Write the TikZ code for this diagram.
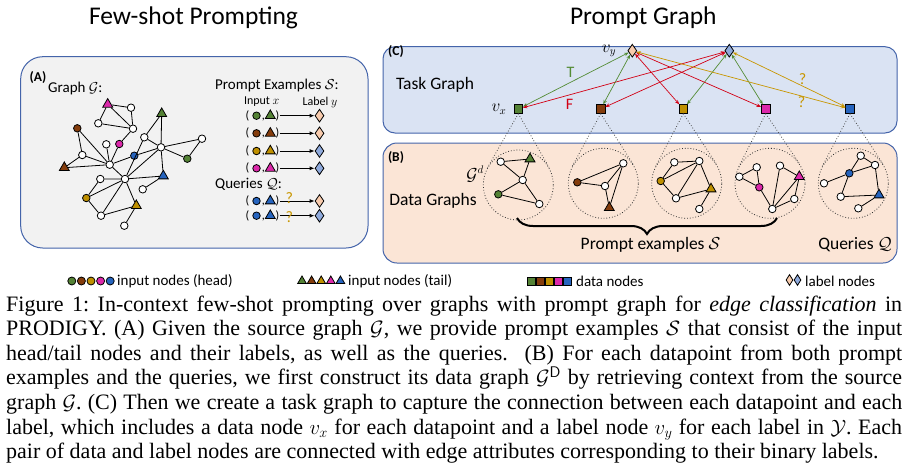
\documentclass[tikz,border=0pt]{standalone}
\usepackage{amsmath,amssymb}
\usepackage{fontspec}
\setmainfont{Carlito}
\newfontfamily\capfont{Liberation Serif}
\usepackage{xcolor}
\usepackage{tikz}
\usetikzlibrary{positioning,arrows.meta,calc,shapes.geometric,decorations.pathreplacing}

\definecolor{gGreen}{RGB}{84,130,53}
\definecolor{gBrown}{RGB}{132,60,12}
\definecolor{gGold}{RGB}{191,144,0}
\definecolor{gMag}{RGB}{220,40,170}
\definecolor{gBlue}{RGB}{38,100,190}
\definecolor{lOrange}{RGB}{248,203,173}
\definecolor{lBlue}{RGB}{143,170,220}
\definecolor{eGreen}{RGB}{84,140,53}
\definecolor{eRed}{RGB}{210,0,20}
\definecolor{eGold}{RGB}{200,150,0}
\definecolor{edgeBlue}{RGB}{68,100,170}
\definecolor{fillGray}{RGB}{242,242,242}
\definecolor{fillBlue}{RGB}{218,227,243}
\definecolor{fillPeach}{RGB}{251,229,214}

\begin{document}
\begin{tikzpicture}[x=1pt, y=-1pt, font={\fontsize{15}{18}\selectfont},
  wn/.style={circle, draw, fill=white, line width=0.8pt, inner sep=0pt, minimum size=7.5pt},
  hd/.style={wn, fill=#1},
  tl/.style={regular polygon, regular polygon sides=3, draw, fill=#1, line width=0.8pt, inner sep=0pt, minimum size=11.5pt},
  dn/.style={rectangle, draw, fill=#1, line width=0.8pt, inner sep=0pt, minimum size=8.5pt},
  lb/.style={diamond, draw, fill=#1, line width=0.8pt, inner sep=0pt, minimum width=9pt, minimum height=13pt},
  ed/.style={line width=0.8pt},
  parr/.style={-{Latex[length=5pt, width=4pt]}, line width=0.8pt},
  tarr/.style={{Stealth[length=4.5pt, width=3.5pt]}-{Stealth[length=4.5pt, width=3.5pt]}, line width=0.7pt, draw=#1},
  dg/.style={circle, draw=black!80, dotted, line width=0.8pt, minimum size=70pt, inner sep=0pt},
  cone/.style={draw=black!70, dotted, line width=0.8pt},
  panel/.style={draw=edgeBlue, line width=1pt, fill=#1},
  brc/.style={decorate, decoration={brace, mirror, amplitude=16pt}, line width=2pt},
  tag/.style={font={\bfseries\fontsize{13.5}{15}\selectfont}, inner sep=1pt},
  lab/.style={font={\fontsize{15}{18}\selectfont}, inner sep=1pt},
  big/.style={font={\fontsize{17.5}{20}\selectfont}, inner sep=1pt},
  sml/.style={font={\fontsize{12}{14}\selectfont}, inner sep=1pt},
  ttl/.style={font={\fontsize{25.5}{28}\selectfont}, inner sep=0pt, anchor=base},
  paren/.style={font={\fontsize{12}{14}\selectfont}, inner sep=0pt},
  qm/.style={font={\fontsize{16}{18}\selectfont}, text=eGold, inner sep=0pt},
  mk/.style={font={\fontsize{16}{18}\selectfont}, inner sep=1pt},
  leg/.style={font={\fontsize{15}{17}\selectfont}, anchor=west, inner sep=0pt}]
\useasboundingbox (0,0) rectangle (909,469);

\node[ttl] (t1) at (193.5,24) {Few-shot Prompting};
\node[ttl] (t2) at (643.3,24) {Prompt Graph};

\draw[panel=fillGray, rounded corners=22pt] (20.7,56.7) rectangle (368,248);
\draw[panel=fillBlue, rounded corners=12pt] (383,46.7) rectangle (897,133);
\draw[panel=fillPeach, rounded corners=14pt] (383,143) rectangle (897,263);

% (A) source graph
\node[tag] (ta) at (38,78) {(A)};
\node[lab, anchor=west] (gl) at (47,88) {Graph $\mathcal{G}$:};
\node[tl=gMag] (mT) at (107.7,104.3) {};
\node[wn] (w1) at (131,107.7) {};
\node[wn] (w2) at (98.3,123.3) {};
\node[wn] (w3) at (133,128.7) {};
\node[tl=gGreen] (gT) at (161.7,113.7) {};
\node[hd=gBrown] (bC) at (77.3,128.3) {};
\node[wn] (w4) at (144.3,137.3) {};
\node[wn] (w5) at (202,138.7) {};
\node[wn] (w6) at (106.3,144.3) {};
\node[hd=gMag] (mC) at (119.3,144) {};
\node[wn] (w7) at (161,147.3) {};
\node[hd=gBlue] (uC) at (134.3,155.7) {};
\node[wn] (w8) at (82.3,155) {};
\node[hd=gGreen] (gC) at (187.3,158.7) {};
\node[tl=gBrown] (bT) at (64.3,167.7) {};
\node[wn] (w9) at (109.7,164.7) {};
\node[wn] (w10) at (100.3,179) {};
\node[wn] (w11) at (125,179) {};
\node[tl=gBlue] (uT) at (163.3,176) {};
\node[wn] (w12) at (142.7,189.3) {};
\node[hd=gGold] (oC) at (86.3,198) {};
\node[tl=gGold] (oT) at (136.3,205.7) {};
\node[wn] (w13) at (101,215.7) {};
\node[wn] (w14) at (124.3,225.7) {};
\draw[ed] (mT) -- (w1) (mT) -- (w2) (mT) -- (w3) (w1) -- (w3) (w2) -- (w3)
  (w3) -- (mC) (mC) -- (w9) (w6) -- (w9) (bC) -- (w8) (bC) -- (w9)
  (w8) -- (bT) (w8) -- (w9) (bT) -- (w9) (w9) -- (uC) (uC) -- (w7)
  (w9) -- (w11) (w7) -- (w4) (gT) -- (w7) (gT) -- (w4) (w4) -- (w11)
  (w7) -- (w5) (w5) -- (gC) (w7) -- (gC) (w7) -- (uT) (w7) -- (w11)
  (w11) -- (uT) (w11) -- (w10) (w10) -- (oC) (w11) -- (oC) (w11) -- (w13)
  (w11) -- (oT) (oC) -- (w13) (w13) -- (oT) (oT) -- (w14) (w12) -- (uT);

% prompt examples and queries
\node[lab, anchor=west] (pe) at (214,85) {Prompt Examples $\mathcal{S}$:};
\node[sml] (ix) at (261.7,102) {Input $x$};
\node[sml] (ly) at (320,102) {Label $y$};
\node[lab, anchor=west] (qq) at (214,184) {Queries $\mathcal{Q}$:};
\foreach \yy/\hc/\lc [count=\i] in {115.7/gGreen/lOrange, 133.3/gBrown/lOrange, 151/gGold/lBlue, 168.3/gMag/lBlue, 201/gBlue/lOrange, 215.7/gBlue/lBlue}{
  \node[paren] (pl\i) at (247.5,\yy) {(};
  \node[hd=\hc] (h\i) at (256.5,\yy) {};
  \node[paren, anchor=base] (cm\i) at (263.3,\yy+3.5) {,};
  \node[tl=\hc] (tt\i) at (270.3,\yy) {};
  \node[paren] (pr\i) at (277.5,\yy) {)};
  \node[lb=\lc] (y\i) at (319.5,\yy) {};
  \draw[parr] (pr\i) -- (y\i);
}
\node[qm] (q1) at (289.3,198.3) {?};
\node[qm] (q2) at (289.3,216.7) {?};

% (C) task graph
\node[tag] (tc) at (396,52) {(C)};
\node[big] (tg) at (435,85) {Task Graph};
\node[lb=lOrange] (ly1) at (632.3,50.7) {};
\node[lb=lBlue] (ly2) at (729.3,50.7) {};
\node[dn=gGreen] (s1) at (518.3,109) {};
\node[dn=gBrown] (s2) at (600.7,109) {};
\node[dn=gGold] (s3) at (683.3,109) {};
\node[dn=gMag] (s4) at (765.7,109) {};
\node[dn=gBlue] (s5) at (850,109) {};
\node[mk, left=10pt of ly1] (vy) {$v_y$};
\node[mk, left=6pt of s1] (vx) {$v_x$};
\draw[tarr=eGreen] (ly1) -- node[pos=.55, above=3pt, text=eGreen, mk] (lt) {T} (s1);
\draw[tarr=eRed] (ly2) -- node[pos=.77, below=3pt, text=eRed, mk] (lf) {F} (s1);
\draw[tarr=eGreen] (ly1) -- (s2);
\draw[tarr=eRed] (ly2) -- (s2);
\draw[tarr=eRed] (ly1) -- (s3);
\draw[tarr=eGreen] (ly2) -- (s3);
\draw[tarr=eRed] (ly1) -- (s4);
\draw[tarr=eGreen] (ly2) -- (s4);
\draw[tarr=eGold] (ly1) -- node[pos=.79, below=0pt, qm] (lq1) {?} (s5);
\draw[tarr=eGold] (ly2) -- node[pos=.59, above right=-1pt, qm] (lq2) {?} (s5);

% (B) data graphs
\node[tag] (tb) at (396,157.5) {(B)};
\node[big] (dgl) at (433,201) {Data Graphs};
\node[mk] (gd) at (475,174) {$\mathcal{G}^d$};
\node[dg] (c1) at (518.3,185) {};
\node[dg] (c2) at (603.3,183.3) {};
\node[dg] (c3) at (686.7,183.3) {};
\node[dg] (c4) at (770,183.3) {};
\node[dg] (c5) at (853.3,183.3) {};
\draw[cone] (s1.south) -- (tangent cs:node=c1,point={(s1.south)},solution=1) (s1.south) -- (tangent cs:node=c1,point={(s1.south)},solution=2);
\draw[cone] (s2.south) -- (tangent cs:node=c2,point={(s2.south)},solution=1) (s2.south) -- (tangent cs:node=c2,point={(s2.south)},solution=2);
\draw[cone] (s3.south) -- (tangent cs:node=c3,point={(s3.south)},solution=1) (s3.south) -- (tangent cs:node=c3,point={(s3.south)},solution=2);
\draw[cone] (s4.south) -- (tangent cs:node=c4,point={(s4.south)},solution=1) (s4.south) -- (tangent cs:node=c4,point={(s4.south)},solution=2);
\draw[cone] (s5.south) -- (tangent cs:node=c5,point={(s5.south)},solution=1) (s5.south) -- (tangent cs:node=c5,point={(s5.south)},solution=2);

\node[wn] (p1a) at (500.7,161.7) {};
\node[tl=gGreen] (p1b) at (530,159) {};
\node[wn] (p1c) at (522.7,180) {};
\node[hd=gGreen] (p1d) at (498.3,194.3) {};
\node[wn] (p1e) at (539.3,204) {};
\draw[ed] (p1a) -- (p1b) (p1a) -- (p1c) (p1b) -- (p1c) (p1c) -- (p1d) (p1d) -- (p1e) (p1c) -- (p1e);

\node[hd=gBrown] (p2a) at (577.3,182.3) {};
\node[wn] (p2b) at (623.3,163.3) {};
\node[wn] (p2c) at (605,186) {};
\node[tl=gBrown] (p2d) at (609.3,207.7) {};
\draw[ed] (p2a) -- (p2b) (p2a) -- (p2c) (p2b) -- (p2c) (p2c) -- (p2d) (p2b) -- (p2d);

\node[wn] (p3a) at (674.3,162.3) {};
\node[wn] (p3b) at (699.3,161) {};
\node[hd=gGold] (p3c) at (660.7,181) {};
\node[tl=gGold] (p3d) at (711,189) {};
\node[wn] (p3e) at (676,198.3) {};
\node[wn] (p3f) at (699.3,209) {};
\draw[ed] (p3a) -- (p3b) (p3c) -- (p3a) (p3c) -- (p3b) (p3c) -- (p3e) (p3b) -- (p3e) (p3b) -- (p3d) (p3e) -- (p3d) (p3d) -- (p3f);

\node[wn] (p4a) at (739.3,176.7) {};
\node[wn] (p4b) at (756.7,167.3) {};
\node[hd=gMag] (p4c) at (759.3,187.3) {};
\node[wn] (p4d) at (780,165.7) {};
\node[tl=gMag] (p4e) at (799.3,176.7) {};
\node[wn] (p4f) at (794.3,199) {};
\node[wn] (p4g) at (772.3,209) {};
\draw[ed] (p4a) -- (p4b) (p4a) -- (p4c) (p4b) -- (p4c) (p4c) -- (p4g) (p4d) -- (p4g) (p4d) -- (p4e) (p4g) -- (p4e) (p4e) -- (p4f) (p4f) -- (p4g);

\node[wn] (p5a) at (860.7,155.7) {};
\node[wn] (p5b) at (875,165) {};
\node[hd=gBlue] (p5c) at (849.3,173.3) {};
\node[wn] (p5d) at (824,183.3) {};
\node[wn] (p5e) at (840.7,196.7) {};
\node[tl=gBlue] (p5f) at (879,195) {};
\node[wn] (p5g) at (858.3,208.3) {};
\draw[ed] (p5a) -- (p5b) (p5a) -- (p5c) (p5c) -- (p5b) (p5c) -- (p5d) (p5c) -- (p5e) (p5e) -- (p5f) (p5b) -- (p5f) (p5f) -- (p5g);

\coordinate (bl) at (517,218);
\coordinate (br) at (777,218);
\draw[brc] (bl) -- (br);
\node[big] (pex) at (650.5,245) {Prompt examples $\mathcal{S}$};
\node[big] (pq) at (855,245) {Queries $\mathcal{Q}$};

% legend
\foreach \c [count=\i] in {gGreen,gBrown,gGold,gMag,gBlue}{
  \node[hd=\c, minimum size=8pt] (lh\i) at (62.2+9.6*\i,281) {};
  \node[tl=\c, minimum size=10pt] (lt\i) at (292.4+9.6*\i,281) {};
  \node[dn=\c, minimum size=8pt] (ls\i) at (522.4+9*\i,281) {};
}
\node[lb=lOrange, minimum width=7pt, minimum height=11pt] (ld1) at (789.5,280) {};
\node[lb=lBlue, minimum width=7pt, minimum height=11pt] (ld2) at (797.5,280) {};
\node[leg] (lgh) at (117,281) {input nodes (head)};
\node[leg] (lgt) at (348,281) {input nodes (tail)};
\node[leg] (lgs) at (576,281) {data nodes};
\node[leg] (lgd) at (805,281) {label nodes};

% caption
\node[anchor=base west, text width=896pt, align=justify, inner sep=0pt,
  font={\capfont\fontsize{22}{24.6}\selectfont\frenchspacing}] (cap) at (6,311) {Figure 1: In-context few-shot prompting over graphs with prompt graph for \emph{edge classification} in\linebreak
PRODIGY. (A) Given the source graph $\mathcal{G}$, we provide prompt examples $\mathcal{S}$ that consist of the input\linebreak
head/tail nodes and their labels, as well as the queries. \ (B) For each datapoint from both prompt\linebreak
examples and the queries, we first construct its data graph $\mathcal{G}^{\mathsf{D}}$ by retrieving context from the source\linebreak
graph $\mathcal{G}$. (C) Then we create a task graph to capture the connection between each datapoint and each\linebreak
label, which includes a data node $v_x$ for each datapoint and a label node $v_y$ for each label in $\mathcal{Y}$. Each\linebreak
pair of data and label nodes are connected with edge attributes corresponding to their binary labels.};
\end{tikzpicture}
\end{document}
